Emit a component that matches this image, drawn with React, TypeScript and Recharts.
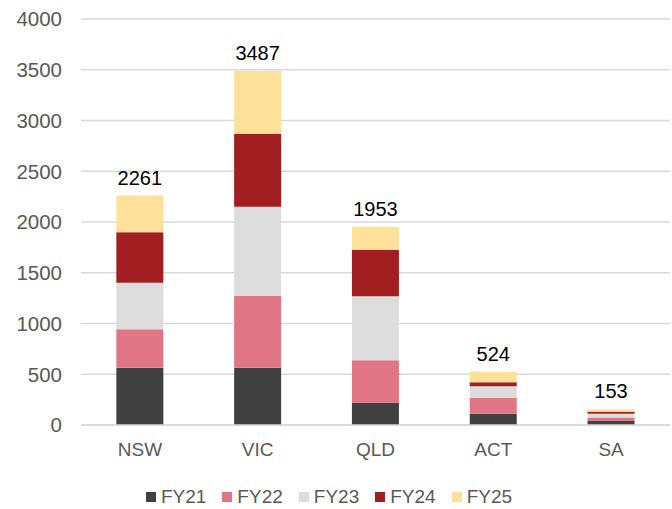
import React from 'react';
import { BarChart, Bar, XAxis, YAxis, CartesianGrid, LabelList, Legend } from 'recharts';

const categories = ['NSW', 'VIC', 'QLD', 'ACT', 'SA'];
const fy21 = [565, 563, 220, 110, 45];
const fy22 = [378, 708, 417, 155, 30];
const fy23 = [459, 880, 631, 118, 35];
const fy24 = [496, 719, 459, 37, 20];
const fy25 = [363, 617, 226, 104, 23];
const yTicks = [0, 500, 1000, 1500, 2000, 2500, 3000, 3500, 4000];

const seriesKeys = ['FY21', 'FY22', 'FY23', 'FY24', 'FY25'];
const seriesColors = ['#404040', '#E07585', '#DDDDDD', '#A21F21', '#FDE09A'];

const data = categories.map((c, i) => ({
  name: c,
  FY21: fy21[i],
  FY22: fy22[i],
  FY23: fy23[i],
  FY24: fy24[i],
  FY25: fy25[i],
  total: fy21[i] + fy22[i] + fy23[i] + fy24[i] + fy25[i],
}));

const FONT = 'Arial, "Liberation Sans", sans-serif';

const renderLegend = () => (
  <div style={{ display: 'flex', justifyContent: 'center', fontFamily: FONT, fontSize: 19, color: '#595959', paddingTop: 17, paddingRight: 12, lineHeight: '22px' }}>
    {seriesKeys.map((k, i) => (
      <div key={k} style={{ display: 'flex', alignItems: 'center', marginRight: i < seriesKeys.length - 1 ? 16 : 0 }}>
        <span style={{ display: 'inline-block', width: 10, height: 10, background: seriesColors[i], marginRight: 5 }} />
        <span>{k}</span>
      </div>
    ))}
  </div>
);

export default function App() {
  return (
    <div style={{ position: 'absolute', left: 0, top: 0, background: '#fff' }}>
      <BarChart
        width={672}
        height={509}
        data={data}
        margin={{ top: 19, right: 2, bottom: 0, left: 0 }}
        barCategoryGap="30%"
      >
        <CartesianGrid vertical={false} stroke="#D9D9D9" strokeWidth={1.5} />
        <XAxis
          dataKey="name"
          axisLine={{ stroke: '#D9D9D9', strokeWidth: 1.5 }}
          tickLine={false}
          tick={{ fill: '#595959', fontSize: 19, fontFamily: FONT }}
          tickMargin={12}
          height={44}
        />
        <YAxis
          width={81}
          domain={[0, 4000]}
          ticks={yTicks}
          axisLine={false}
          tickLine={false}
          tickSize={0}
          tickMargin={19}
          tick={{ fill: '#595959', fontSize: 20.5, fontFamily: FONT }}
          interval={0}
        />
        <Legend verticalAlign="bottom" height={40} content={renderLegend} />
        {seriesKeys.map((k, i) => (
          <Bar key={k} dataKey={k} stackId="a" fill={seriesColors[i]} isAnimationActive={false}>
            {k === 'FY25' ? (
              <LabelList dataKey="total" position="top" offset={11} fill="#000" fontSize={20} fontFamily={FONT} />
            ) : null}
          </Bar>
        ))}
      </BarChart>
    </div>
  );
}
